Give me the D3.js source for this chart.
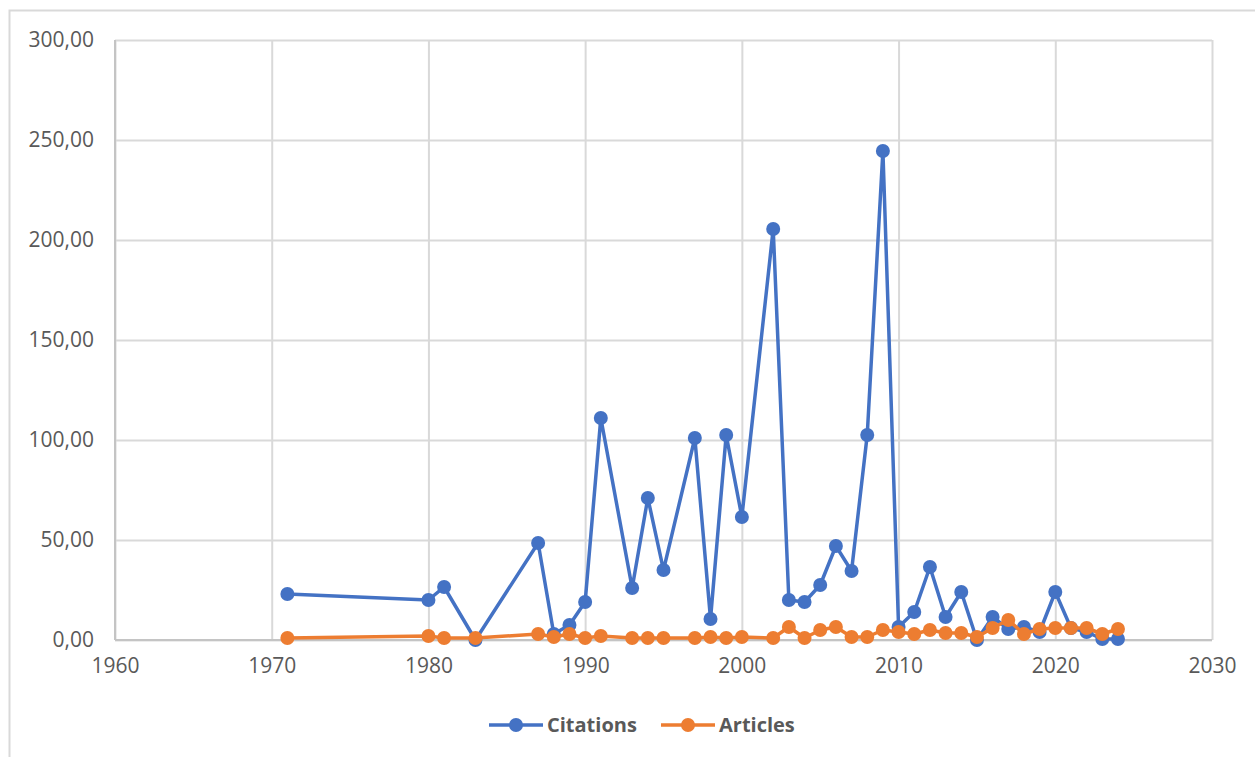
<!DOCTYPE html>
<html>
<head>
<meta charset="utf-8">
<script src="https://cdn.jsdelivr.net/npm/d3@7"></script>
<style>
  html, body { margin: 0; padding: 0; background: #fff; }
  svg { display: block; }
</style>
</head>
<body>
<svg id="chart" width="1255" height="757"></svg>
<script>
// Publication years covered by the bibliography
const years = [1971, 1980, 1981, 1983, 1987, 1988, 1989, 1990, 1991, 1993, 1994, 1995,
  1997, 1998, 1999, 2000, 2002, 2003, 2004, 2005, 2006, 2007, 2008, 2009, 2010,
  2011, 2012, 2013, 2014, 2015, 2016, 2017, 2018, 2019, 2020, 2021, 2022, 2023, 2024];

// Citations received by the works of each year
const citations = [23, 20, 26.5, 0, 48.5, 3, 7.5, 19, 111, 26, 71, 35,
  101, 10.5, 102.5, 61.5, 205.5, 20, 19, 27.5, 47, 34.5, 102.5, 244.5, 6.5,
  14, 36.5, 11.5, 24, 0, 11.5, 5.5, 6.5, 4, 24, 6, 4, 0.5, 0.5];

// Number of articles published each year
const articles = [1, 2, 1, 1, 3, 1.5, 3, 1, 2, 1, 1, 1,
  1, 1.5, 1, 1.5, 1, 6.5, 1, 5, 6.5, 1.5, 1.5, 5, 4,
  3, 5, 3.5, 3.5, 1.5, 6, 10, 3, 5.5, 6, 6, 6, 3, 5.5];

const xTicks = [1960, 1970, 1980, 1990, 2000, 2010, 2020, 2030];
const yTicks = [0, 50, 100, 150, 200, 250, 300];

const seriesNames = ["Citations", "Articles"];
const seriesColors = ["#4472C4", "#ED7D31"];

const svg = d3.select("#chart");
const font = "'Open Sans', 'Liberation Sans', sans-serif";

// Outer chart frame
svg.append("rect")
  .attr("x", 9.5).attr("y", 10.5)
  .attr("width", 1300).attr("height", 800)
  .attr("fill", "none")
  .attr("stroke", "#d9d9d9")
  .attr("stroke-width", 2);

const plot = { left: 115, right: 1212, top: 40, bottom: 640 };

const x = d3.scaleLinear().domain([1960, 2030]).range([plot.left, plot.right]);
const y = d3.scaleLinear().domain([0, 300]).range([plot.bottom, plot.top]);

const fmt = v => d3.format(".2f")(v).replace(".", ",");

// Horizontal gridlines
svg.append("g")
  .attr("transform", `translate(${plot.left},0)`)
  .call(d3.axisLeft(y).tickValues(yTicks).tickSize(-(plot.right - plot.left)).tickFormat(""))
  .call(g => g.select(".domain").remove())
  .call(g => g.selectAll("line").attr("stroke", "#d9d9d9").attr("stroke-width", 2));

// Vertical gridlines
svg.append("g")
  .attr("transform", `translate(0,${plot.bottom})`)
  .call(d3.axisBottom(x).tickValues(xTicks).tickSize(-(plot.bottom - plot.top)).tickFormat(""))
  .call(g => g.select(".domain").remove())
  .call(g => g.selectAll("line").attr("stroke", "#d9d9d9").attr("stroke-width", 2));

// Axis lines
svg.append("line")
  .attr("x1", plot.left).attr("x2", plot.right)
  .attr("y1", plot.bottom).attr("y2", plot.bottom)
  .attr("stroke", "#c4c4c4").attr("stroke-width", 2);
svg.append("line")
  .attr("x1", plot.left).attr("x2", plot.left)
  .attr("y1", plot.top).attr("y2", plot.bottom)
  .attr("stroke", "#c4c4c4").attr("stroke-width", 2);

// Y tick labels
const yAxis = svg.append("g")
  .attr("transform", `translate(${plot.left},0)`)
  .call(d3.axisLeft(y).tickValues(yTicks).tickSize(0).tickPadding(21).tickFormat(fmt));
yAxis.select(".domain").remove();
yAxis.selectAll("text")
  .attr("font-family", font).attr("font-size", 21).attr("fill", "#595959");

// X tick labels
const xAxis = svg.append("g")
  .attr("transform", `translate(0,${plot.bottom})`)
  .call(d3.axisBottom(x).tickValues(xTicks).tickSize(0).tickPadding(18).tickFormat(d3.format("d")));
xAxis.select(".domain").remove();
xAxis.selectAll("text")
  .attr("font-family", font).attr("font-size", 21).attr("fill", "#595959");

// Series lines and markers
const seriesValues = [citations, articles];
const line = d3.line().x(d => x(d[0])).y(d => y(d[1]));

seriesValues.forEach((vals, i) => {
  const pts = years.map((yr, j) => [yr, vals[j]]);
  const g = svg.append("g");
  g.append("path")
    .datum(pts)
    .attr("d", line)
    .attr("fill", "none")
    .attr("stroke", seriesColors[i])
    .attr("stroke-width", 3.5)
    .attr("stroke-linejoin", "round");
  g.selectAll("circle")
    .data(pts)
    .join("circle")
    .attr("cx", d => x(d[0]))
    .attr("cy", d => y(d[1]))
    .attr("r", 7)
    .attr("fill", seriesColors[i]);
});

// Legend
const legendItems = [
  { x0: 489, x1: 543, tx: 547 },
  { x0: 661, x1: 715, tx: 719 }
];
const legendY = 725;
legendItems.forEach((it, i) => {
  const g = svg.append("g");
  g.append("line")
    .attr("x1", it.x0).attr("x2", it.x1)
    .attr("y1", legendY).attr("y2", legendY)
    .attr("stroke", seriesColors[i]).attr("stroke-width", 3.5);
  g.append("circle")
    .attr("cx", (it.x0 + it.x1) / 2).attr("cy", legendY)
    .attr("r", 7).attr("fill", seriesColors[i]);
  g.append("text")
    .attr("x", it.tx).attr("y", legendY)
    .attr("dy", "0.35em")
    .attr("font-family", font).attr("font-size", 20).attr("font-weight", "bold")
    .attr("fill", "#595959")
    .text(seriesNames[i]);
});
</script>
</body>
</html>
